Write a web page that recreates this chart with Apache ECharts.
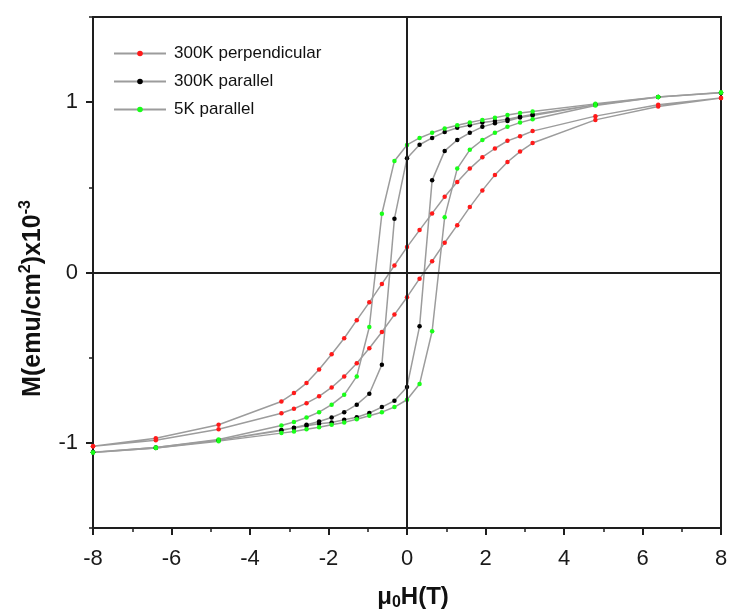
<!DOCTYPE html>
<html>
<head>
<meta charset="utf-8">
<title>M-H loops</title>
<script src="https://cdn.jsdelivr.net/npm/echarts@6/dist/echarts.min.js"></script>
<style>
  html, body { margin: 0; padding: 0; background: #fff; }
  #chart { width: 731px; height: 610px; }
</style>
</head>
<body>
<div id="chart"></div>
<script>
// field sweep, +8 T down to -8 T and back up
var fieldDown = [8, 6.4, 4.8, 3.2, 2.88, 2.56, 2.24, 1.92, 1.6, 1.28, 0.96, 0.64, 0.32, 0,
  -0.32, -0.64, -0.96, -1.28, -1.6, -1.92, -2.24, -2.56, -2.88, -3.2, -4.8, -6.4, -8];
var fieldUp = [-8, -6.4, -4.8, -3.2, -2.88, -2.56, -2.24, -1.92, -1.6, -1.28, -0.96, -0.64, -0.32, 0,
  0.32, 0.64, 0.96, 1.28, 1.6, 1.92, 2.24, 2.56, 2.88, 3.2, 4.8, 6.4, 8];

// 300K perpendicular
var perpDown = [1.025, 0.985, 0.918, 0.83, 0.80, 0.773, 0.728, 0.677, 0.61, 0.531, 0.445, 0.347, 0.249, 0.149,
  0.041, -0.067, -0.175, -0.28, -0.386, -0.48, -0.569, -0.649, -0.708, -0.757, -0.894, -0.973, -1.02];
var perpUp = [-1.02, -0.985, -0.92, -0.826, -0.80, -0.767, -0.727, -0.675, -0.61, -0.533, -0.445, -0.349, -0.247, -0.145,
  -0.036, 0.066, 0.175, 0.278, 0.384, 0.482, 0.573, 0.649, 0.71, 0.76, 0.896, 0.975, 1.025];

// 300K parallel
var par300Down = [1.055, 1.03, 0.985, 0.927, 0.915, 0.90, 0.89, 0.88, 0.865, 0.85, 0.825, 0.79, 0.75, 0.671,
  0.316, -0.541, -0.712, -0.776, -0.82, -0.851, -0.875, -0.894, -0.912, -0.928, -0.985, -1.028, -1.055];
var par300Up = [-1.055, -1.03, -0.985, -0.925, -0.913, -0.90, -0.888, -0.88, -0.865, -0.85, -0.825, -0.79, -0.753, -0.672,
  -0.316, 0.541, 0.714, 0.778, 0.82, 0.855, 0.876, 0.89, 0.91, 0.922, 0.985, 1.03, 1.055];

// 5K parallel
var par5Down = [1.057, 1.03, 0.99, 0.945, 0.937, 0.924, 0.908, 0.896, 0.88, 0.865, 0.845, 0.82, 0.79, 0.749,
  0.655, 0.345, -0.32, -0.61, -0.718, -0.776, -0.82, -0.851, -0.878, -0.898, -0.98, -1.027, -1.057];
var par5Up = [-1.057, -1.03, -0.99, -0.943, -0.934, -0.92, -0.908, -0.894, -0.88, -0.861, -0.841, -0.82, -0.79, -0.747,
  -0.655, -0.345, 0.325, 0.61, 0.72, 0.778, 0.82, 0.855, 0.88, 0.90, 0.98, 1.03, 1.057];

var seriesNames = ['300K perpendicular', '300K parallel', '5K parallel'];
var yMajor = [-1, 0, 1];
var yMinor = [-1.5, -0.5, 0.5, 1.5];

function loop(down, up) {
  var pts = [];
  fieldDown.forEach(function (h, i) { pts.push([h, down[i]]); });
  fieldUp.forEach(function (h, i) { pts.push([h, up[i]]); });
  return pts;
}

var chart = echarts.init(document.getElementById('chart'));
var axisColor = '#1e1e1e';
var font = 'Liberation Sans, Arial, sans-serif';

function lineSeries(name, color, data, extra) {
  var s = {
    name: name,
    type: 'line',
    data: data,
    symbol: 'circle',
    symbolSize: 4.5,
    showSymbol: true,
    smooth: false,
    animation: false,
    lineStyle: { color: '#9c9c9c', width: 1.5 },
    itemStyle: { color: color, borderWidth: 0 },
    emphasis: { disabled: true }
  };
  return Object.assign(s, extra || {});
}

var option = {
  backgroundColor: '#ffffff',
  animation: false,
  grid: {
    left: 93, right: 10, top: 17, bottom: 82,
    outerBoundsMode: 'none',
    containLabel: false,
    show: true, borderColor: axisColor, borderWidth: 2, backgroundColor: 'transparent'
  },
  legend: {
    orient: 'vertical',
    left: 108,
    top: 40,
    itemWidth: 52,
    itemHeight: 7,
    itemGap: 11,
    textStyle: { fontFamily: font, fontSize: 17, color: '#111', padding: [0, 0, 0, 3] },
    data: seriesNames
  },
  xAxis: {
    type: 'value',
    min: -8, max: 8, interval: 2,
    name: '{b|μ}{s|0}{b|H(T)}',
    nameLocation: 'middle',
    nameGap: 55,
    nameTextStyle: {
      padding: [0, 0, 0, 12],
      rich: {
        b: { fontFamily: font, fontSize: 24, fontWeight: 'bold', color: '#111', lineHeight: 28 },
        s: { fontFamily: font, fontSize: 16, fontWeight: 'bold', color: '#111', lineHeight: 16, verticalAlign: 'bottom' }
      }
    },
    axisLine: { onZero: false, lineStyle: { color: axisColor, width: 2 } },
    axisTick: { inside: false, length: 7, lineStyle: { color: axisColor, width: 2 } },
    minorTick: { show: true, splitNumber: 2, length: 4, lineStyle: { color: axisColor, width: 1.5 } },
    axisLabel: { fontFamily: font, fontSize: 22, color: '#1a1a1a', margin: 20 },
    splitLine: { show: false }
  },
  yAxis: [{
    type: 'value',
    min: -1.5, max: 1.5, interval: 0.5,
    name: '{b|M(emu/cm}{s|2}{b|)x10}{s|-3}',
    nameLocation: 'middle',
    nameGap: 45,
    nameRotate: 90,
    nameTextStyle: {
      padding: [0, 52, 0, 0],
      rich: {
        b: { fontFamily: font, fontSize: 25, fontWeight: 'bold', color: '#111', lineHeight: 30 },
        s: { fontFamily: font, fontSize: 16, fontWeight: 'bold', color: '#111', lineHeight: 16, verticalAlign: 'top' }
      }
    },
    axisLine: { onZero: false, lineStyle: { color: axisColor, width: 2 } },
    axisTick: { inside: false, length: 7, customValues: yMajor, lineStyle: { color: axisColor, width: 2 } },
    axisLabel: { fontFamily: font, fontSize: 22, color: '#1a1a1a', margin: 15, customValues: yMajor },
    splitLine: { show: false }
  }, {
    type: 'value',
    position: 'left',
    min: -1.5, max: 1.5, interval: 0.5,
    axisLine: { show: false, onZero: false },
    axisTick: { inside: false, length: 4, customValues: yMinor, lineStyle: { color: axisColor, width: 1.5 } },
    axisLabel: { show: false },
    splitLine: { show: false }
  }],
  series: [
    lineSeries(seriesNames[0], '#ff1a1a', loop(perpDown, perpUp), {
      markLine: {
        silent: true,
        symbol: 'none',
        label: { show: false },
        lineStyle: { color: axisColor, width: 2, type: 'solid' },
        data: [{ xAxis: 0 }, { yAxis: 0 }]
      }
    }),
    lineSeries(seriesNames[1], '#000000', loop(par300Down, par300Up)),
    lineSeries(seriesNames[2], '#19ff19', loop(par5Down, par5Up))
  ]
};

chart.setOption(option);
</script>
</body>
</html>
